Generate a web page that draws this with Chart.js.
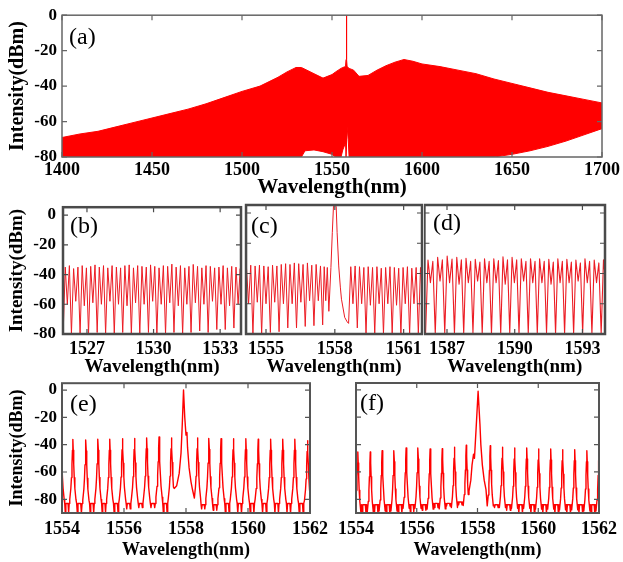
<!DOCTYPE html>
<html>
<head>
<meta charset="utf-8">
<script src="https://cdn.jsdelivr.net/npm/chart.js@4.4.1/dist/chart.umd.min.js"></script>
<style>
  body { margin: 0; background: #fff; }
  #fig { position: relative; width: 623px; height: 562px; overflow: hidden; }
  canvas { position: absolute; }
  .tag { position: absolute; font: 24px "Liberation Serif", "Times New Roman", serif; line-height: 24px; color: #000; }
</style>
</head>
<body>
<div id="fig">
  <canvas id="pa" width="623" height="200" style="left:0;top:0"></canvas>
  <canvas id="pb" width="260" height="188" style="left:0;top:190px"></canvas>
  <canvas id="pc" width="199" height="188" style="left:243px;top:190px"></canvas>
  <canvas id="pd" width="199" height="188" style="left:424px;top:190px"></canvas>
  <canvas id="pe" width="334" height="193" style="left:0;top:368px"></canvas>
  <canvas id="pf" width="291" height="193" style="left:332px;top:368px"></canvas>
  <div class="tag" style="left:69px;top:24px">(a)</div>
  <div class="tag" style="left:70px;top:213px">(b)</div>
  <div class="tag" style="left:251px;top:213px">(c)</div>
  <div class="tag" style="left:433px;top:210px">(d)</div>
  <div class="tag" style="left:70px;top:391px">(e)</div>
  <div class="tag" style="left:360px;top:390px">(f)</div>
</div>
<script>
// ---- (a) full spectrum: upper / lower envelope of the dense comb
const aWave  = [1400, 1410, 1420, 1430, 1440, 1450, 1460, 1470, 1480, 1490, 1500, 1510, 1520, 1525, 1530, 1533, 1535, 1540, 1545, 1550, 1552, 1555, 1556, 1557.5, 1557.8, 1558, 1558.2, 1558.4, 1559, 1559.5, 1562, 1565, 1570, 1575, 1580, 1585, 1590, 1595, 1600, 1610, 1620, 1630, 1640, 1650, 1660, 1670, 1680, 1690, 1700];
const aUpper = [-69, -67, -65.5, -63, -60.5, -58, -55.5, -53, -50, -46.5, -43, -40, -35, -32, -29.5, -29.5, -30.5, -33, -35.5, -33.5, -32, -30, -29.5, -29, -25, 0, -25, -29, -29.5, -30, -31, -34.5, -34, -31, -28.5, -26.5, -25, -26, -27.5, -29, -31, -33, -36, -38.5, -41, -43.5, -45.5, -47.5, -49.5];
const aLower = [-80, -80, -80, -80, -80, -80, -80, -80, -80, -80, -80, -80, -80, -80, -80, -80, -76.5, -76, -77, -78.5, -80, -80, -76, -72, -80, -80, -80, -63, -70, -80, -80, -80, -80, -80, -80, -80, -80, -80, -80, -80, -80, -80, -80, -78.5, -76.5, -74, -71, -67.5, -64];
const aTicksX = [1400, 1450, 1500, 1550, 1600, 1650, 1700];
const aTicksY = [-80, -60, -40, -20, 0];

// ---- (b) 1526-1534 nm: valleys, two tops and a dip per period
const bValley = [1525.93, 1526.3, 1526.69, 1527.07, 1527.46, 1527.84, 1528.23, 1528.61, 1529.0, 1529.38, 1529.77, 1530.15, 1530.54, 1530.92, 1531.31, 1531.69, 1532.08, 1532.46, 1532.85, 1533.23, 1533.62, 1534.0];
const bFloor  = [-78, -80, -80, -80, -79, -80, -80, -79, -80, -80, -79, -80, -80, -79, -80, -79, -78, -79, -77, -77, -76, -78];
const bTop    = [-35, -34, -36, -35, -34, -35.5, -34.5, -33.5, -35, -34, -35.5, -34, -35, -35.5, -34, -33.5, -35.5, -34, -34.5, -35, -33.5, -34.5, -35.5, -34, -34.5, -33, -35, -34, -35.5, -34.5, -33.2, -34.5, -35.5, -34, -34.5, -35.5, -35, -34, -35.5, -34.5, -35, -36];
const bDip    = [-60, -58, -61, -59, -60, -58, -60, -61, -59, -60, -58, -60, -59, -61, -60, -59, -60, -58, -60, -61, -60];
const bTicksX = [1527, 1530, 1533];

// ---- (c) 1554-1562 nm, with the lasing line near 1558 nm
const cValleyL = [1554.05, 1554.43, 1554.81, 1555.19, 1555.57, 1555.95, 1556.33, 1556.71, 1557.09, 1557.47, 1557.74];
const cFloorL  = [-80, -80, -80, -79, -78.5, -76, -76, -75, -74.5, -74, -65];
const cTopL    = [-35, -34.5, -35, -34.5, -35, -35.5, -34.5, -35, -34, -33.5, -34, -33, -33.5, -34, -33, -34.5, -34, -35, -35.5, -36];
const cDipL    = [-60, -59, -60, -59, -60, -60, -59, -58, -58, -58];
const cLineX   = [1557.74, 1557.83, 1557.89, 1557.94, 1558.0, 1558.06, 1558.1, 1558.17, 1558.24, 1558.29, 1558.43, 1558.54, 1558.6];
const cLineY   = [-65, -36, -13, 4, 7, 4, -13, -35, -49, -57, -69, -72, -73];
const cValleyR = [1558.6, 1558.98, 1559.36, 1559.74, 1560.12, 1560.5, 1560.88, 1561.26, 1561.64, 1562.02];
const cFloorR  = [-73, -76, -80, -80, -80, -80, -80, -80, -80, -80];
const cTopR    = [-35.5, -35, -35.5, -36, -35.5, -36, -35.5, -36.5, -36, -35.5, -36, -36.5, -36, -35.5, -36.5, -36, -36, -36.5];
const cDipR    = [-60, -60, -61, -60, -60, -61, -60, -60, -60];
const cTicksX  = [1555, 1558, 1561];

// ---- (d) 1586-1594 nm
const dValley = [1586.05, 1586.48, 1586.9, 1587.33, 1587.74, 1588.15, 1588.56, 1588.97, 1589.38, 1589.78, 1590.19, 1590.6, 1591.0, 1591.41, 1591.81, 1592.21, 1592.61, 1593.01, 1593.42, 1593.83, 1594.24];
const dFloor  = [-80, -80, -79.5, -80, -80, -79.5, -80, -80, -80, -79.5, -80, -80, -80, -79.5, -80, -80, -80, -79.5, -80, -80, -80];
const dTop    = [-31.1, -32, -29.3, -31, -28.4, -30.5, -29.3, -31, -30, -32, -30.6, -32.5, -30.2, -32, -30.2, -31.5, -28.9, -31, -29.3, -31, -30.2, -32, -30.2, -32, -30.2, -32, -30.6, -32.5, -30.2, -32, -30.6, -32.5, -31.1, -33, -30.2, -32, -31.1, -33, -31, -33];
const dDip    = [-46, -45, -46, -47, -46, -45, -46, -46, -47, -46, -45, -46, -46, -47, -46, -46, -45, -46, -46, -46];
const dTicksX = [1587, 1590, 1593];

const combTicksY = [-80, -60, -40, -20, 0];

// ---- (e) and (f): single comb lines, shape of one line
const lineShapeOffset = [0.1, 0.065, 0.045, 0.028, 0.013];
const lineShapeDrop   = [44, 36, 28, 18, 8];

const ePeakX = [1553.97, 1554.35, 1554.77, 1555.16, 1555.54, 1555.95, 1556.34, 1556.73, 1557.13, 1557.53, 1558.37, 1558.74, 1559.13, 1559.53, 1559.93, 1560.33, 1560.73, 1561.12, 1561.51, 1561.92];
const ePeakY = [-36, -36.1, -36.6, -36, -36, -35.6, -35.4, -35, -34.4, -35, -35, -35.4, -35.6, -35.6, -35.6, -36, -36, -36, -36, -37];
const eShelf = [-83, -83, -83, -83, -83, -83, -83, -83, -83, -83, -84, -84, -83, -83, -83, -83, -83, -83, -83, -83];
const eDeep  = [-90, -90, -90, -90, -90, -87, -86, -86, -90, -84, -87, -88, -90, -90, -90, -90, -90, -90, -90, -90];
const eLineX = [1557.62, 1557.7, 1557.78, 1557.84, 1557.88, 1557.92, 1557.96, 1558.0, 1558.03, 1558.05, 1558.1, 1558.16, 1558.21];
const eLineY = [-72, -70, -61, -46, -25, 0, -20, -33, -31, -42, -57, -67, -73];

const fPeakX = [1554.06, 1554.47, 1554.86, 1555.25, 1555.65, 1556.04, 1556.44, 1556.84, 1557.24, 1557.63, 1558.42, 1558.82, 1559.22, 1559.62, 1560.01, 1560.41, 1560.8, 1561.2, 1561.6, 1562.0];
const fPeakY = [-45.4, -45.4, -44.5, -44.5, -42.5, -42.5, -43.2, -43, -42, -40.5, -40.8, -42, -42.5, -42.5, -43.2, -43.2, -43.7, -43.7, -44.5, -44.5];
const fShelf = [-84, -84, -84, -84, -84, -84, -83, -83, -82, -82, -84, -84, -84, -84, -84, -84, -84, -84, -84, -84];
const fDeep  = [-90, -90, -90, -90, -89, -88, -86, -85, -84, -84, -86, -88, -90, -90, -90, -90, -90, -90, -90, -90];
const fLineX = [1557.72, 1557.78, 1557.82, 1557.87, 1557.9, 1557.95, 1558.02, 1558.08, 1558.11, 1558.16, 1558.22, 1558.28];
const fLineY = [-74, -66, -55, -47, -50, -30, -1, -25, -40, -55, -66, -73];

const efTicksX = [1554, 1556, 1558, 1560, 1562];

const SERIF = '"Liberation Serif", "Times New Roman", serif';
const RED = '#ff0000';

const zip = (xs, ys) => xs.map((x, i) => ({x, y: ys[i]}));

function doubleComb(valleys, floors, tops, dips) {
  const pts = [];
  for (let k = 0; k < valleys.length - 1; k++) {
    const v = valleys[k], w = valleys[k + 1] - v;
    pts.push({x: v, y: floors[k]});
    pts.push({x: v + w * 0.25, y: tops[2 * k]});
    pts.push({x: v + w * 0.5, y: dips[k]});
    pts.push({x: v + w * 0.75, y: tops[2 * k + 1]});
  }
  pts.push({x: valleys[valleys.length - 1], y: floors[floors.length - 1]});
  return pts;
}

// floor between two lines: a flat shelf, noise dipping to the deep level near each line's foot
const gapSteps = [0.1, 0.2, 0.3, 0.7, 0.8, 0.9];
const gapDeep  = [false, true, false, false, true, false];
function singleComb(peaks, tops, shelves, deeps) {
  const pts = [];
  peaks.forEach((p, i) => {
    lineShapeOffset.forEach((o, j) => pts.push({x: p - o, y: tops[i] - lineShapeDrop[j]}));
    pts.push({x: p, y: tops[i]});
    for (let j = lineShapeOffset.length - 1; j >= 0; j--) pts.push({x: p + lineShapeOffset[j], y: tops[i] - lineShapeDrop[j]});
    const next = peaks[i + 1];
    if (next !== undefined && next - p < 0.6) {
      const a = p + lineShapeOffset[0], b = next - lineShapeOffset[0];
      gapSteps.forEach((f, j) => pts.push({x: a + (b - a) * f, y: gapDeep[j] ? deeps[i] : shelves[i]}));
    }
  });
  return pts;
}

function withLine(pts, lx, ly) {
  const lo = lx[0], hi = lx[lx.length - 1];
  return pts.filter(p => p.x < lo || p.x > hi).concat(zip(lx, ly)).sort((a, b) => a.x - b.x);
}

const framePlugin = {
  id: 'frame',
  afterDatasetsDraw(chart, args, opts) {
    const {ctx, chartArea: a, scales: {x, y}} = chart;
    const L = 5;
    ctx.save();
    ctx.strokeStyle = opts.color;
    ctx.lineWidth = 1.2;
    ctx.beginPath();
    x.ticks.forEach(t => {
      const px = x.getPixelForValue(t.value);
      ctx.moveTo(px, a.top); ctx.lineTo(px, a.top + L);
      ctx.moveTo(px, a.bottom); ctx.lineTo(px, a.bottom - L);
    });
    y.ticks.forEach(t => {
      const py = y.getPixelForValue(t.value);
      ctx.moveTo(a.left, py); ctx.lineTo(a.left + L, py);
      ctx.moveTo(a.right, py); ctx.lineTo(a.right - L, py);
    });
    ctx.stroke();
    ctx.lineWidth = opts.width;
    ctx.strokeRect(a.left, a.top, a.right - a.left, a.bottom - a.top);
    ctx.restore();
  }
};

function axis(o) {
  return {
    type: 'linear', min: o.min, max: o.max,
    grid: {display: false, drawTicks: false},
    border: {display: false},
    ticks: {
      display: o.labels !== false, padding: o.pad || 0, color: '#000',
      autoSkip: false, maxRotation: 0,
      font: {family: SERIF, weight: 'bold', size: o.font || 17},
      callback: v => String(v)
    },
    title: {
      display: !!o.title, text: o.title, color: '#000',
      font: {family: SERIF, weight: 'bold', size: o.titleSize || 19, lineHeight: 1.2},
      padding: {top: o.titlePad || 0, bottom: 0}
    },
    afterBuildTicks: s => { s.ticks = o.ticks.map(v => ({value: v})); },
    afterFit: s => { if (s.isHorizontal()) s.height = o.size; else s.width = o.size; }
  };
}

function panel(id, datasets, pad, x, y, frame) {
  return new Chart(document.getElementById(id), {
    type: 'line',
    data: {datasets},
    options: {
      responsive: false, animation: false, events: [],
      layout: {padding: pad},
      plugins: {legend: {display: false}, tooltip: {enabled: false}, frame},
      elements: {point: {radius: 0}, line: {tension: 0, borderJoinStyle: 'round'}},
      scales: {x: axis(x), y: axis(y)}
    },
    plugins: [framePlugin]
  });
}

const lineSet = (pts, color, w) => [{data: pts, borderColor: color, borderWidth: w, fill: false, clip: 0}];

// (a)
panel('pa', [
  {data: zip(aWave, aUpper), borderColor: RED, backgroundColor: RED, borderWidth: 1, fill: '+1', clip: 0},
  {data: zip(aWave, aLower), borderColor: RED, borderWidth: 1, fill: false, clip: 0}
], {top: 14, right: 20, left: 0, bottom: 0},
  {min: 1400, max: 1700, ticks: aTicksX, size: 43, pad: 3, font: 18, title: 'Wavelength(nm)', titleSize: 21},
  {min: -80, max: 0, ticks: aTicksY, size: 62, pad: 5, font: 17, title: 'Intensity(dBm)', titleSize: 20, titlePad: 6},
  {color: '#666', width: 1.5});

// (b)
panel('pb', lineSet(doubleComb(bValley, bFloor, bTop, bDip), '#ec1c24', 1),
  {top: 15, right: 19, left: 0, bottom: 0},
  {min: 1525.92, max: 1533.94, ticks: bTicksX, size: 44, pad: 5, font: 18, title: 'Wavelength(nm)', titleSize: 19},
  {min: -80, max: 5.3, ticks: combTicksY, size: 63, pad: 7, font: 17, title: 'Intensity(dBm)', titleSize: 19, titlePad: 6},
  {color: '#4a4a4a', width: 2.5});

// (c)
const cPts = doubleComb(cValleyL, cFloorL, cTopL, cDipL)
  .concat(zip(cLineX, cLineY))
  .concat(doubleComb(cValleyR, cFloorR, cTopR, cDipR));
panel('pc', lineSet(cPts, '#ec1c24', 1),
  {top: 15, right: 20, left: 0, bottom: 0},
  {min: 1554.13, max: 1561.8, ticks: cTicksX, size: 44, pad: 5, font: 18, title: 'Wavelength(nm)', titleSize: 19},
  {min: -80, max: 5.3, ticks: combTicksY, size: 0, labels: false},
  {color: '#4a4a4a', width: 2.5});

// (d)
panel('pd', lineSet(doubleComb(dValley, dFloor, dTop, dDip), '#ec1c24', 1.1),
  {top: 15, right: 18, left: 0, bottom: 0},
  {min: 1586.0, max: 1594.0, ticks: dTicksX, size: 44, pad: 5, font: 18, title: 'Wavelength(nm)', titleSize: 19},
  {min: -80, max: 5.3, ticks: combTicksY, size: 0, labels: false},
  {color: '#4a4a4a', width: 2.5});

// (e)
panel('pe', lineSet(withLine(singleComb(ePeakX, ePeakY, eShelf, eDeep), eLineX, eLineY), RED, 1.4),
  {top: 15, right: 20, left: 0, bottom: 0},
  {min: 1554, max: 1562, ticks: efTicksX, size: 48, pad: 6, font: 18, title: 'Wavelength(nm)', titleSize: 18},
  {min: -90, max: 5, ticks: combTicksY, size: 62, pad: 5, font: 17, title: 'Intensity(dBm)', titleSize: 18, titlePad: 7},
  {color: '#555', width: 2});

// (f)
panel('pf', lineSet(withLine(singleComb(fPeakX, fPeakY, fShelf, fDeep), fLineX, fLineY), RED, 1.4),
  {top: 15, right: 19, left: 20, bottom: 0},
  {min: 1554, max: 1562, ticks: efTicksX, size: 48, pad: 6, font: 18, title: 'Wavelength(nm)', titleSize: 18},
  {min: -90, max: 5, ticks: combTicksY, size: 0, labels: false},
  {color: '#555', width: 2});
</script>
</body>
</html>
